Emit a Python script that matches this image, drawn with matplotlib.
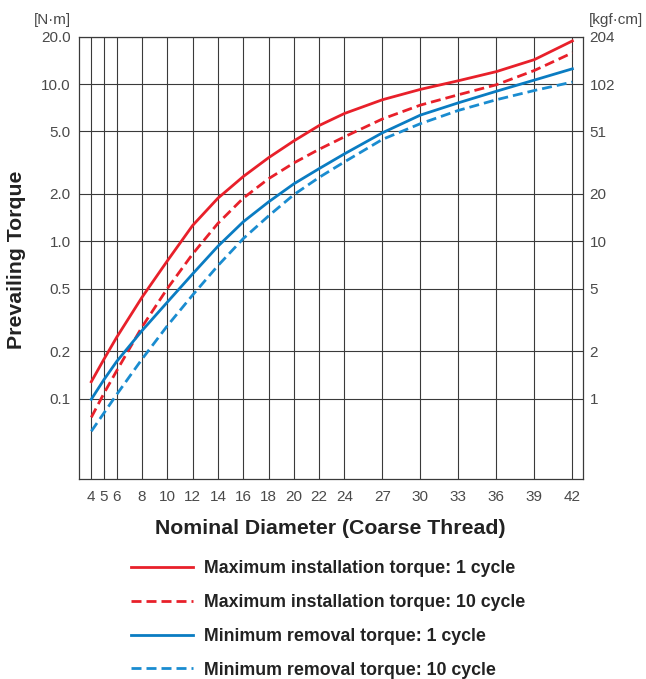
import numpy as np
import matplotlib
matplotlib.use("Agg")
import matplotlib.pyplot as plt

plt.rcParams['font.family'] = ['Liberation Sans', 'DejaVu Sans']

# nominal diameter (coarse thread), mm
diameters = [4, 5, 6, 8, 10, 12, 14, 16, 18, 20, 22, 24, 27, 30, 33, 36, 39, 42]

# prevailing torque, N·m
max_install_1 = [0.128, 0.178, 0.245, 0.44, 0.75, 1.26, 1.88, 2.58, 3.40, 4.35,
                 5.45, 6.5, 7.95, 9.25, 10.5, 12.0, 14.3, 18.8]
max_install_10 = [0.076, 0.108, 0.15, 0.285, 0.50, 0.83, 1.30, 1.88, 2.50, 3.15,
                  3.85, 4.62, 6.0, 7.35, 8.55, 9.9, 12.2, 15.8]
min_removal_1 = [0.099, 0.132, 0.172, 0.27, 0.41, 0.62, 0.93, 1.33, 1.78, 2.32,
                 2.90, 3.6, 4.9, 6.35, 7.6, 9.0, 10.6, 12.5]
min_removal_10 = [0.062, 0.081, 0.106, 0.178, 0.29, 0.455, 0.70, 1.04, 1.45, 1.98,
                  2.55, 3.2, 4.45, 5.6, 6.8, 7.95, 9.1, 10.3]

nm_ticks = [0.1, 0.2, 0.5, 1.0, 2.0, 5.0, 10.0, 20.0]
nm_labels = ['0.1', '0.2', '0.5', '1.0', '2.0', '5.0', '10.0', '20.0']
kgf_labels = ['1', '2', '5', '10', '20', '51', '102', '204']

labels = ['Maximum installation torque: 1 cycle',
          'Maximum installation torque: 10 cycle',
          'Minimum removal torque: 1 cycle',
          'Minimum removal torque: 10 cycle']

RED = '#E8202A'
BLUE = '#0A7CC2'
BLUE_L = '#1A8CD0'
GRID = '#3a3a3a'
TXT = '#4a4a4a'

fig = plt.figure(figsize=(6.46, 6.79), dpi=100)
ax = fig.add_axes([79 / 646, 1 - 479.3 / 679, (582.5 - 79) / 646, (479.3 - 36.7) / 679])

ax.set_yscale('log')
ax.set_ylim(0.0307, 20)
ax.set_xlim(3.03, 42.8)

style = dict(lw=2.0, zorder=3, solid_joinstyle='round', dash_joinstyle='round')
ax.plot(diameters, max_install_1, color=RED, label=labels[0], **style)
ax.plot(diameters, max_install_10, color=RED, dashes=(3.6, 1.8), label=labels[1], **style)
ax.plot(diameters, min_removal_1, color=BLUE, label=labels[2], **style)
ax.plot(diameters, min_removal_10, color=BLUE_L, dashes=(3.6, 1.8), label=labels[3], **style)

ax.set_xticks(diameters)
ax.set_xticklabels([str(d) for d in diameters])
ax.set_yticks(nm_ticks)
ax.set_yticklabels(nm_labels)
ax.minorticks_off()
ax.tick_params(length=0, labelsize=11, labelcolor=TXT)
ax.tick_params(axis='x', pad=8)
ax.tick_params(axis='y', pad=6)
ax.grid(True, color=GRID, lw=0.8)
for s in ax.spines.values():
    s.set_color(GRID)
    s.set_linewidth(0.9)

ax2 = ax.twinx()
ax2.set_yscale('log')
ax2.set_ylim(ax.get_ylim())
ax2.set_yticks(nm_ticks)
ax2.set_yticklabels(kgf_labels)
ax2.minorticks_off()
ax2.tick_params(length=0, labelsize=11, labelcolor=TXT, pad=5)
for s in ax2.spines.values():
    s.set_visible(False)

fig.text(71 / 646, 1 - 20 / 679, '[N·m]', ha='right', va='center', fontsize=11, color=TXT)
fig.text(589 / 646, 1 - 20 / 679, '[kgf·cm]', ha='left', va='center', fontsize=11, color=TXT)

fig.text(17 / 646, 1 - 260 / 679, 'Prevailing Torque', rotation=90, ha='center', va='center',
         fontsize=15.3, fontweight='bold', color='#222222')
fig.text(330 / 646, 1 - 529 / 679, 'Nominal Diameter (Coarse Thread)', ha='center', va='center',
         fontsize=15.3, fontweight='bold', color='#222222')

handles, _ = ax.get_legend_handles_labels()
fig.legend(handles, labels, loc='upper left', bbox_to_anchor=(131 / 646, 1 - 560 / 679),
           frameon=False, prop={'weight': 'bold', 'size': 12.8},
           handlelength=3.5, handletextpad=0.6, labelspacing=0.95,
           borderpad=0, borderaxespad=0)
for t in fig.legends[0].get_texts():
    t.set_color('#222222')

fig.savefig('out.png', dpi=100)
